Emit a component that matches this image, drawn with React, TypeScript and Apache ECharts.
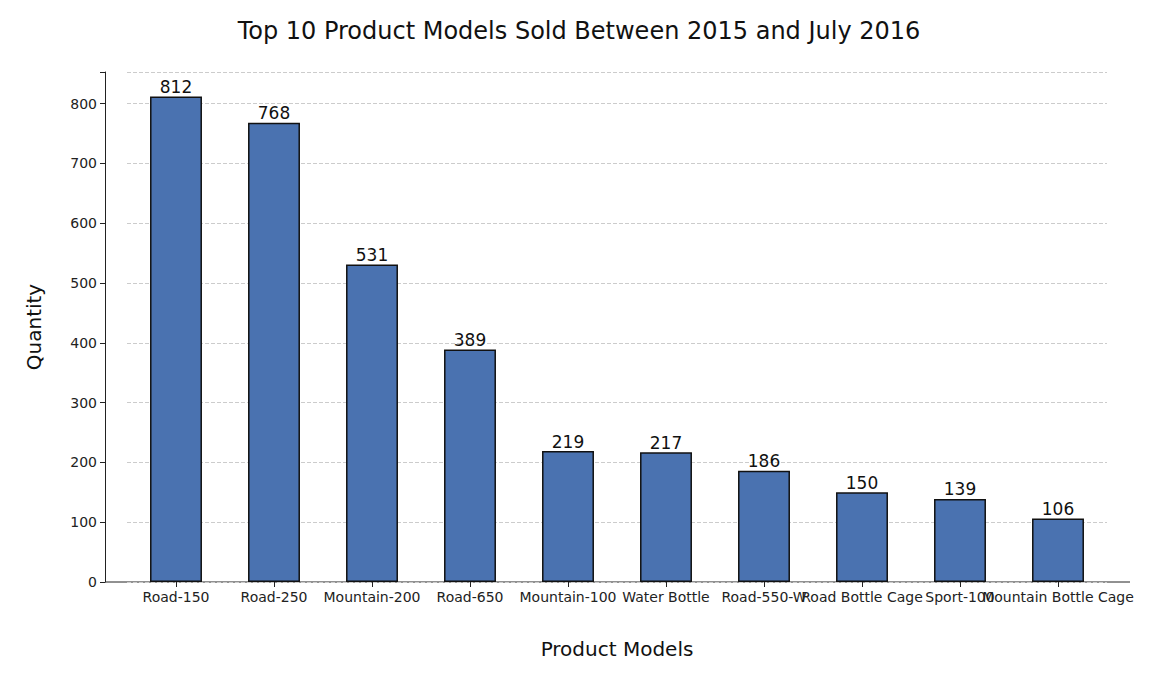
import React, { useEffect, useRef } from 'react';
import * as echarts from 'echarts';

const models = ['Road-150', 'Road-250', 'Mountain-200', 'Road-650', 'Mountain-100', 'Water Bottle', 'Road-550-W', 'Road Bottle Cage', 'Sport-100', 'Mountain Bottle Cage'];
const quantities = [812, 768, 531, 389, 219, 217, 186, 150, 139, 106];
const yTicks = [0, 100, 200, 300, 400, 500, 600, 700, 800];

const font = 'DejaVu Sans';

const App: React.FC = () => {
  const chartRef = useRef<HTMLDivElement>(null);

  useEffect(() => {
    if (!chartRef.current) return;
    const chart = echarts.init(chartRef.current, null, { renderer: 'svg' });
    chart.setOption({
      animation: false,
      textStyle: { fontFamily: font },
      title: {
        text: 'Top 10 Product Models Sold Between 2015 and July 2016',
        left: 'center',
        top: 6,
        textStyle: { fontFamily: font, fontSize: 24, fontWeight: 'normal', color: '#111' }
      },
      grid: { left: 119, right: 43, top: 64, bottom: 84 },
      xAxis: {
        type: 'category',
        data: models,
        axisLine: { show: false },
        axisTick: { show: true, alignWithLabel: true, lineStyle: { color: '#222' } },
        axisLabel: { interval: 0, fontSize: 14, color: '#222', margin: 8 },
        name: 'Product Models',
        nameLocation: 'middle',
        nameGap: 57,
        nameTextStyle: { fontSize: 20, color: '#111' }
      },
      yAxis: {
        type: 'value',
        min: 0,
        max: 853,
        interval: 100,
        offset: 22,
        axisLine: { show: true, lineStyle: { color: '#222' } },
        axisTick: { show: true, lineStyle: { color: '#222' } },
        axisLabel: {
          fontSize: 14,
          color: '#222',
          formatter: (v: number) => (yTicks.includes(v) ? String(v) : '')
        },
        splitLine: { show: true, lineStyle: { type: 'dashed', color: '#ccc' } },
        name: 'Quantity',
        nameLocation: 'middle',
        nameGap: 61,
        nameTextStyle: { fontSize: 20, color: '#111' }
      },
      series: [
        {
          type: 'bar',
          data: quantities,
          barWidth: '53%',
          itemStyle: { color: '#4a72b0', borderColor: '#111', borderWidth: 1.5 },
          label: { show: true, position: 'top', distance: 1, fontSize: 17, color: '#111' }
        }
      ],
      graphic: [
        {
          type: 'line',
          shape: { x1: 97, y1: 574, x2: 1122, y2: 574 },
          style: { stroke: '#222', lineWidth: 1 }
        }
      ]
    });
    return () => chart.dispose();
  }, []);

  return <div ref={chartRef} style={{ width: 1142, height: 658 }} />;
};

export default App;
